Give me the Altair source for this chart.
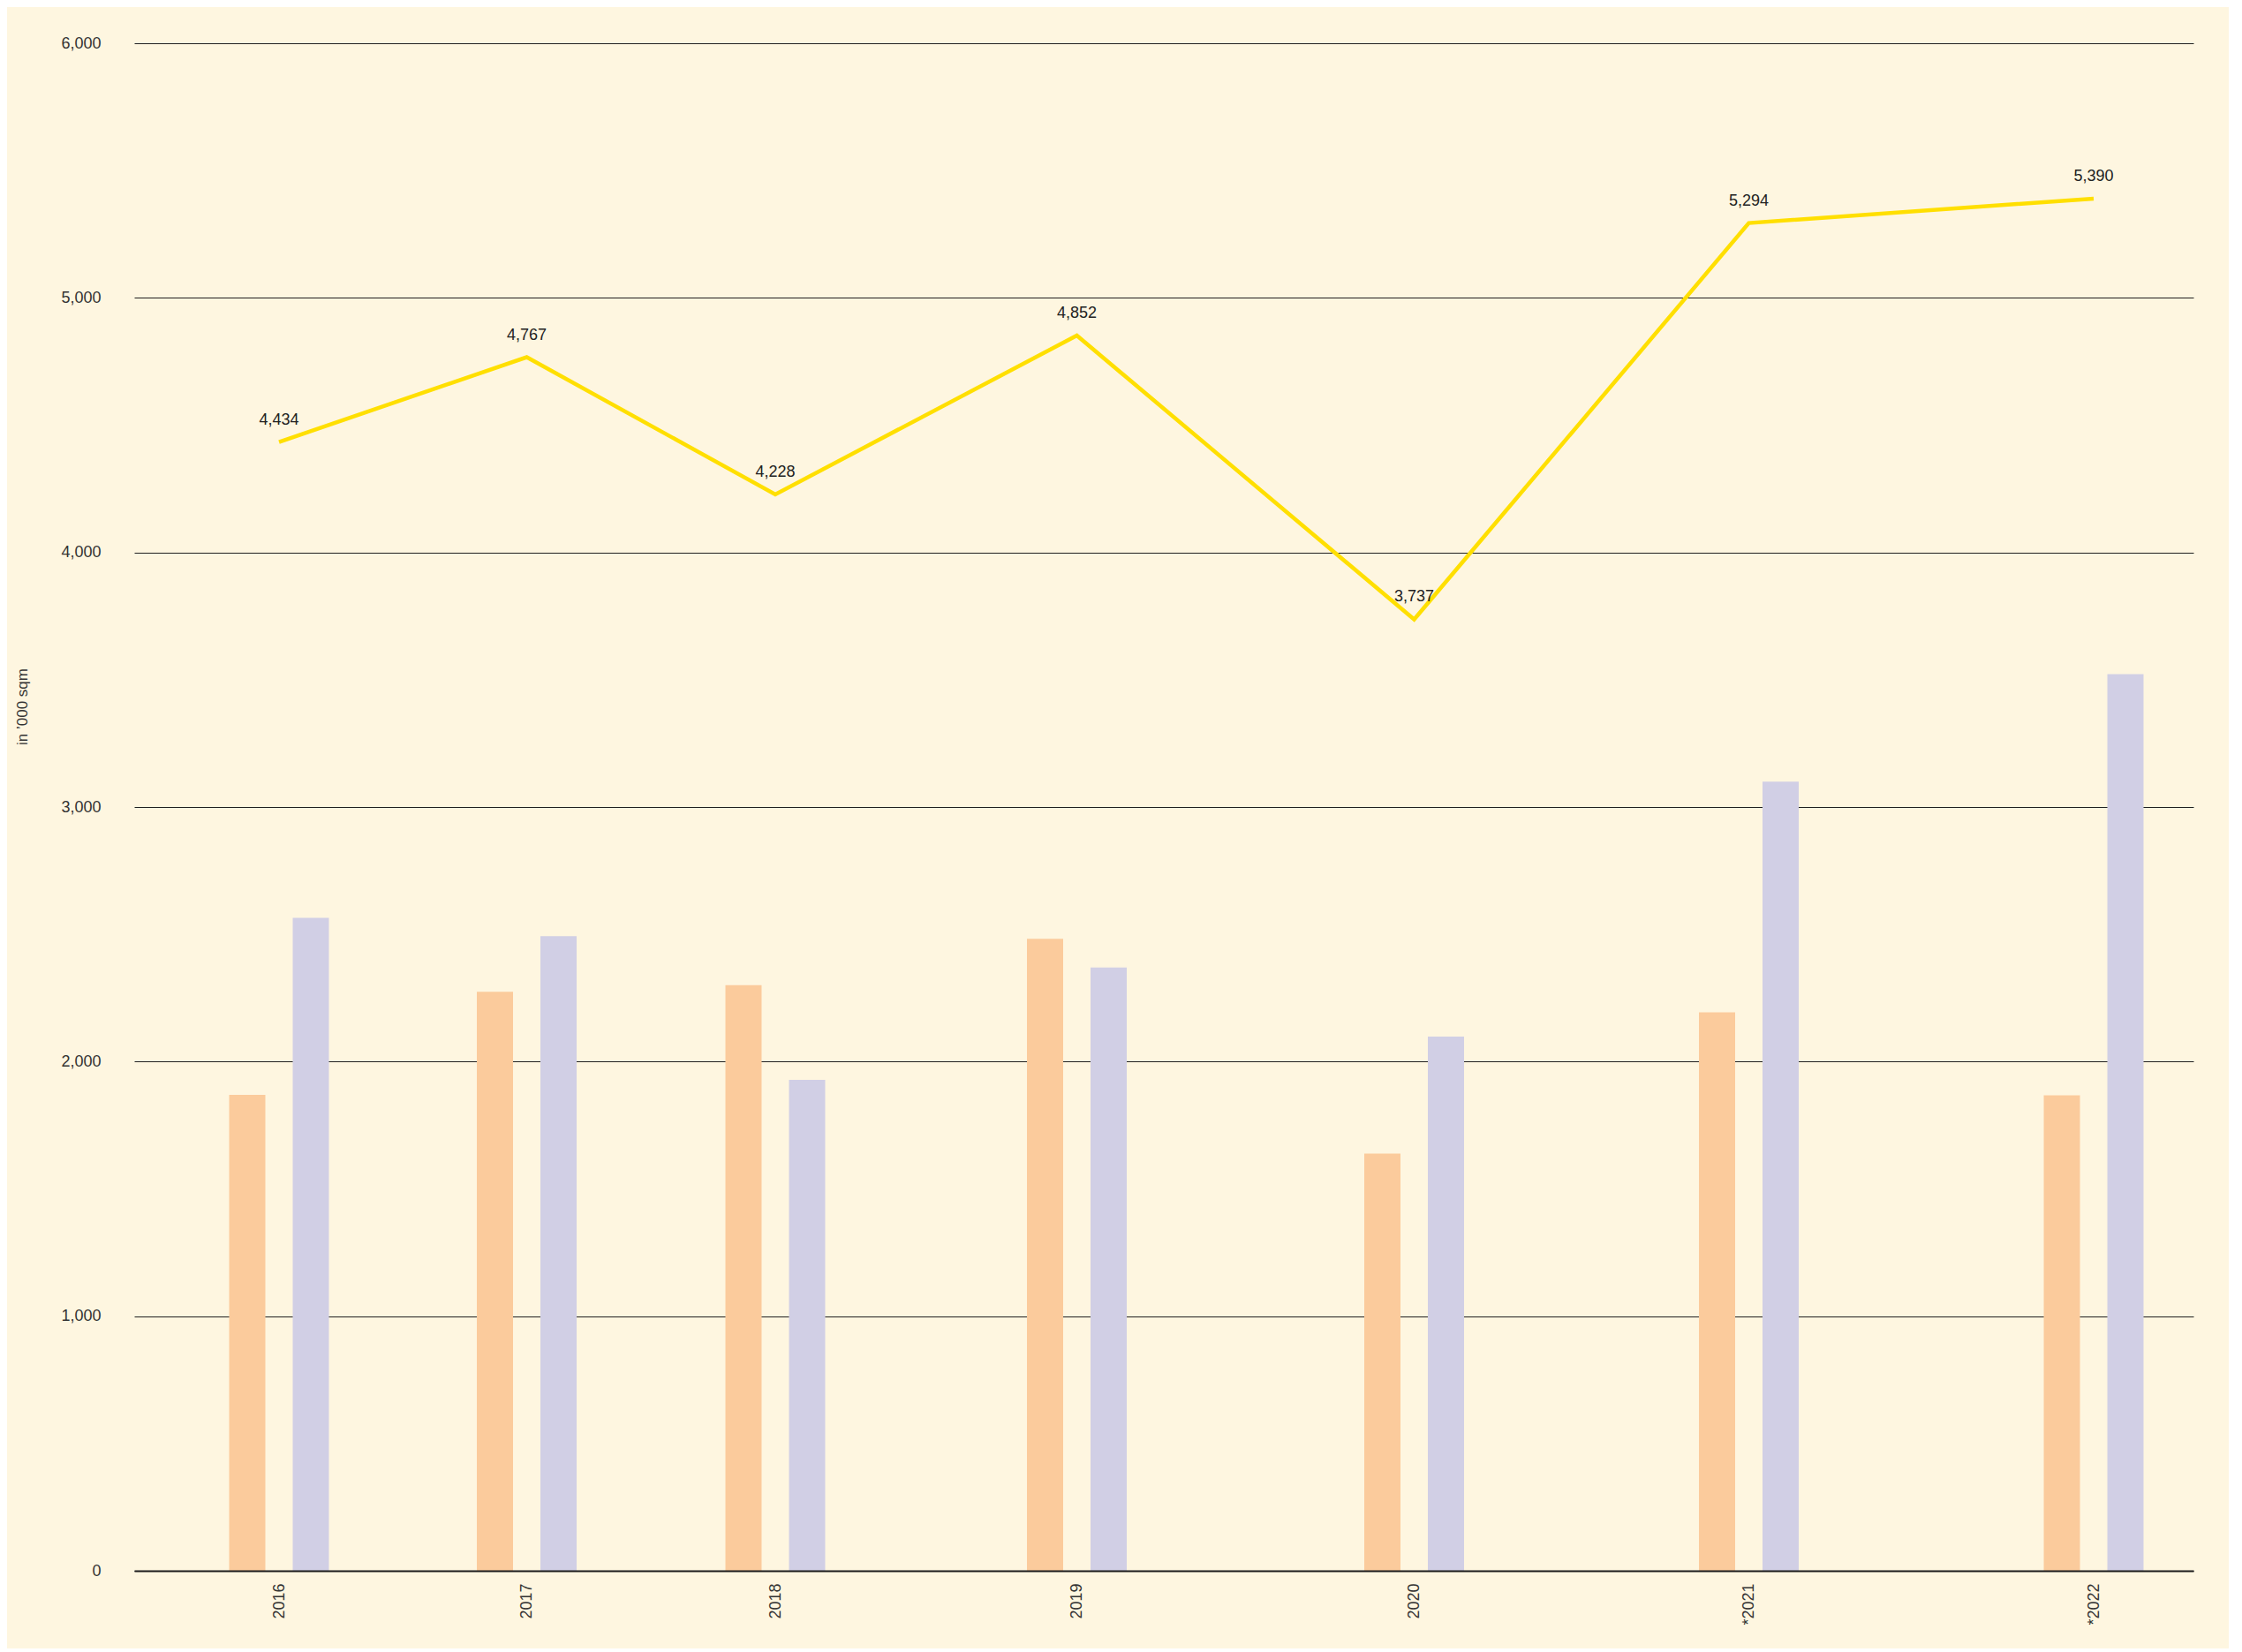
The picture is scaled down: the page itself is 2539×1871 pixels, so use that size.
import altair as alt
import pandas as pd

# ---- data ----
years = [2016, 2017, 2018, 2019, 2020, 2021, 2022]
tick_labels = ["2016", "2017", "2018", "2019", "2020", "*2021", "*2022"]
series_orange = [1869, 2274, 2300, 2482, 1639, 2194, 1868]
series_purple = [2565, 2493, 1928, 2370, 2098, 3100, 3522]
totals = [4434, 4767, 4228, 4852, 3737, 5294, 5390]
y_ticks = [0, 1000, 2000, 3000, 4000, 5000, 6000]

df = pd.DataFrame({
    "year": years,
    "orange": series_orange,
    "purple": series_purple,
    "total": totals,
})

W, H = 2332, 1730
FONT = "Liberation Sans"

# uneven spacing of the years along the axis (piecewise linear scale)
x_domain = [2015] + years + [2023]
x_range = [0, 164, 444.5, 726, 1067.5, 1449.5, 1828.5, 2219, W]

label_expr = "[" + ",".join("'%s'" % t for t in tick_labels) + "][datum.value - %d]" % years[0]

x_enc = alt.X(
    "year:Q",
    scale=alt.Scale(domain=x_domain, range=x_range, nice=False, zero=False),
    axis=alt.Axis(
        values=years,
        labelExpr=label_expr,
        labelAngle=-90,
        labelFont=FONT,
        labelFontSize=18,
        labelColor="#333333",
        labelPadding=14,
        ticks=False,
        tickSize=0,
        grid=False,
        domain=True,
        domainColor="#1a1a1a",
        domainWidth=2,
        zindex=1,
        title=None,
    ),
)

y_scale = alt.Scale(domain=[0, 6000], nice=False, zero=True)
y_axis = alt.Axis(
    values=y_ticks,
    format=",d",
    labelFont=FONT,
    labelFontSize=18,
    labelColor="#333333",
    labelPadding=38,
    ticks=False,
    tickSize=0,
    domain=False,
    grid=True,
    gridColor="#1f1f1f",
    gridWidth=1,
    title="in \u2019000 sqm",
    titleFont=FONT,
    titleFontSize=17,
    titleFontWeight="normal",
    titleColor="#333333",
    titleAngle=-90,
    titleAlign="center",
    titleBaseline="middle",
    titleX=-127,
    titleY=751,
)

base = alt.Chart(df)

bars_orange = base.mark_bar(width=41, xOffset=-36, color="#FBCB9C", orient="vertical").encode(
    x=x_enc,
    y=alt.Y("orange:Q", scale=y_scale, axis=y_axis),
)

bars_purple = base.mark_bar(width=41, xOffset=36, color="#D1CFE5", orient="vertical").encode(
    x=alt.X("year:Q"),
    y=alt.Y("purple:Q"),
)

line = base.mark_line(color="#FFDF00", strokeWidth=4.5).encode(
    x=alt.X("year:Q"),
    y=alt.Y("total:Q"),
)

labels = base.mark_text(
    dy=-25, font=FONT, fontSize=18, color="#222222", align="center", baseline="middle"
).encode(
    x=alt.X("year:Q"),
    y=alt.Y("total:Q"),
    text=alt.Text("total:Q", format=","),
)

chart = (
    alt.layer(bars_orange, bars_purple, line, labels)
    .properties(
        width=W,
        height=H,
        autosize=alt.AutoSizeParams(type="none"),
        padding={"left": 144, "top": 41, "right": 40, "bottom": 88},
        background="#FEF6E0",
    )
    .configure_view(stroke=None)
)

chart.save("out.html", embed_options={"renderer": "svg", "actions": False})
